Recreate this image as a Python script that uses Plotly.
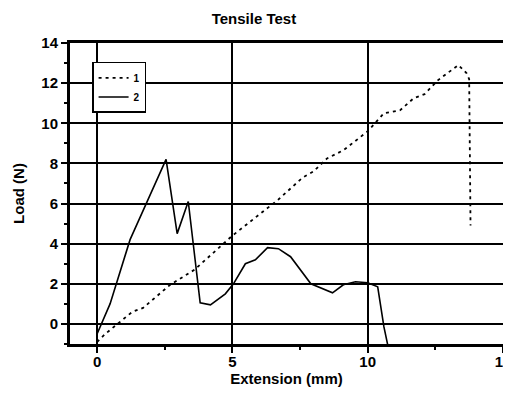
import plotly.graph_objects as go

# Series 1 (dotted)
ext_1 = [0.0, 0.3, 0.8, 1.3, 1.7, 2.7, 3.6, 5.0, 6.7, 7.6, 8.0, 8.5, 9.1, 10.0, 10.6, 11.2,
         11.7, 12.1, 12.6, 13.0, 13.35, 13.65, 13.75, 13.8]
load_1 = [-0.9, -0.5, 0.05, 0.6, 0.8, 1.95, 2.7, 4.4, 6.2, 7.3, 7.6, 8.25, 8.65, 9.6, 10.5, 10.65,
          11.25, 11.45, 12.15, 12.55, 12.9, 12.5, 12.2, 4.9]

# Series 2 (solid)
ext_2 = [0.0, 0.48, 1.22, 1.9, 2.55, 2.96, 3.37, 3.81, 4.19, 4.74, 5.04, 5.48, 5.85, 6.3, 6.7,
         7.15, 7.9, 8.7, 9.1, 9.55, 10.0, 10.37, 10.6, 10.78]
load_2 = [-0.5, 1.0, 4.2, 6.2, 8.2, 4.5, 6.1, 1.05, 0.95, 1.5, 2.0, 3.0, 3.2, 3.8, 3.75,
          3.35, 2.0, 1.55, 1.95, 2.1, 2.05, 1.85, -0.15, -1.3]

FONT = "Liberation Sans, Arial, sans-serif"

fig = go.Figure()
fig.add_trace(go.Scatter(x=ext_1, y=load_1, mode="lines", name="1",
                         line=dict(color="black", width=1.8, dash="3px,4px")))
fig.add_trace(go.Scatter(x=ext_2, y=load_2, mode="lines", name="2",
                         line=dict(color="black", width=1.6)))

axis_common = dict(
    showline=True, linecolor="black", linewidth=3, mirror=True,
    showgrid=True, gridcolor="black", gridwidth=2,
    zeroline=False, ticks="outside", ticklen=6, tickwidth=2, tickcolor="black",
    tickfont=dict(family=FONT, size=15, color="black", weight="bold"),
    automargin=False, ticklabeloverflow="allow",
)

fig.update_xaxes(range=[-1, 15], tick0=0, dtick=5, ticklabelstandoff=-4,
                 minor=dict(ticks="outside", ticklen=3, tickwidth=2, tickcolor="black", dtick=2.5, tick0=0, showgrid=False),
                 title=dict(text="<b>Extension (mm)</b>", font=dict(family=FONT, size=15, color="black"), standoff=4),
                 **axis_common)
fig.update_yaxes(range=[-1, 14], tick0=0, dtick=2,
                 minor=dict(ticks="outside", ticklen=3, tickwidth=2, tickcolor="black", dtick=1, tick0=0, showgrid=False),
                 title=dict(text="<b>Load (N)</b>", font=dict(family=FONT, size=15, color="black"), standoff=14),
                 **axis_common)

# The page body has an 8px margin, so the figure is sized/offset to land on the 511x394 window
fig.update_layout(
    width=503, height=386,
    margin=dict(l=62, r=8, t=35, b=50),
    paper_bgcolor="white", plot_bgcolor="white",
    title=dict(text="<b>Tensile Test</b>", x=0.489, xanchor="center", y=0.971, yanchor="middle",
               font=dict(family=FONT, size=15, color="black")),
    showlegend=True,
    legend=dict(x=0.051, y=0.937, xanchor="left", yanchor="top",
                bgcolor="white", bordercolor="black", borderwidth=1.5,
                font=dict(family=FONT, size=10, color="black", weight="bold"),
                tracegroupgap=0, itemwidth=30),
)

fig.write_html("out.html")
